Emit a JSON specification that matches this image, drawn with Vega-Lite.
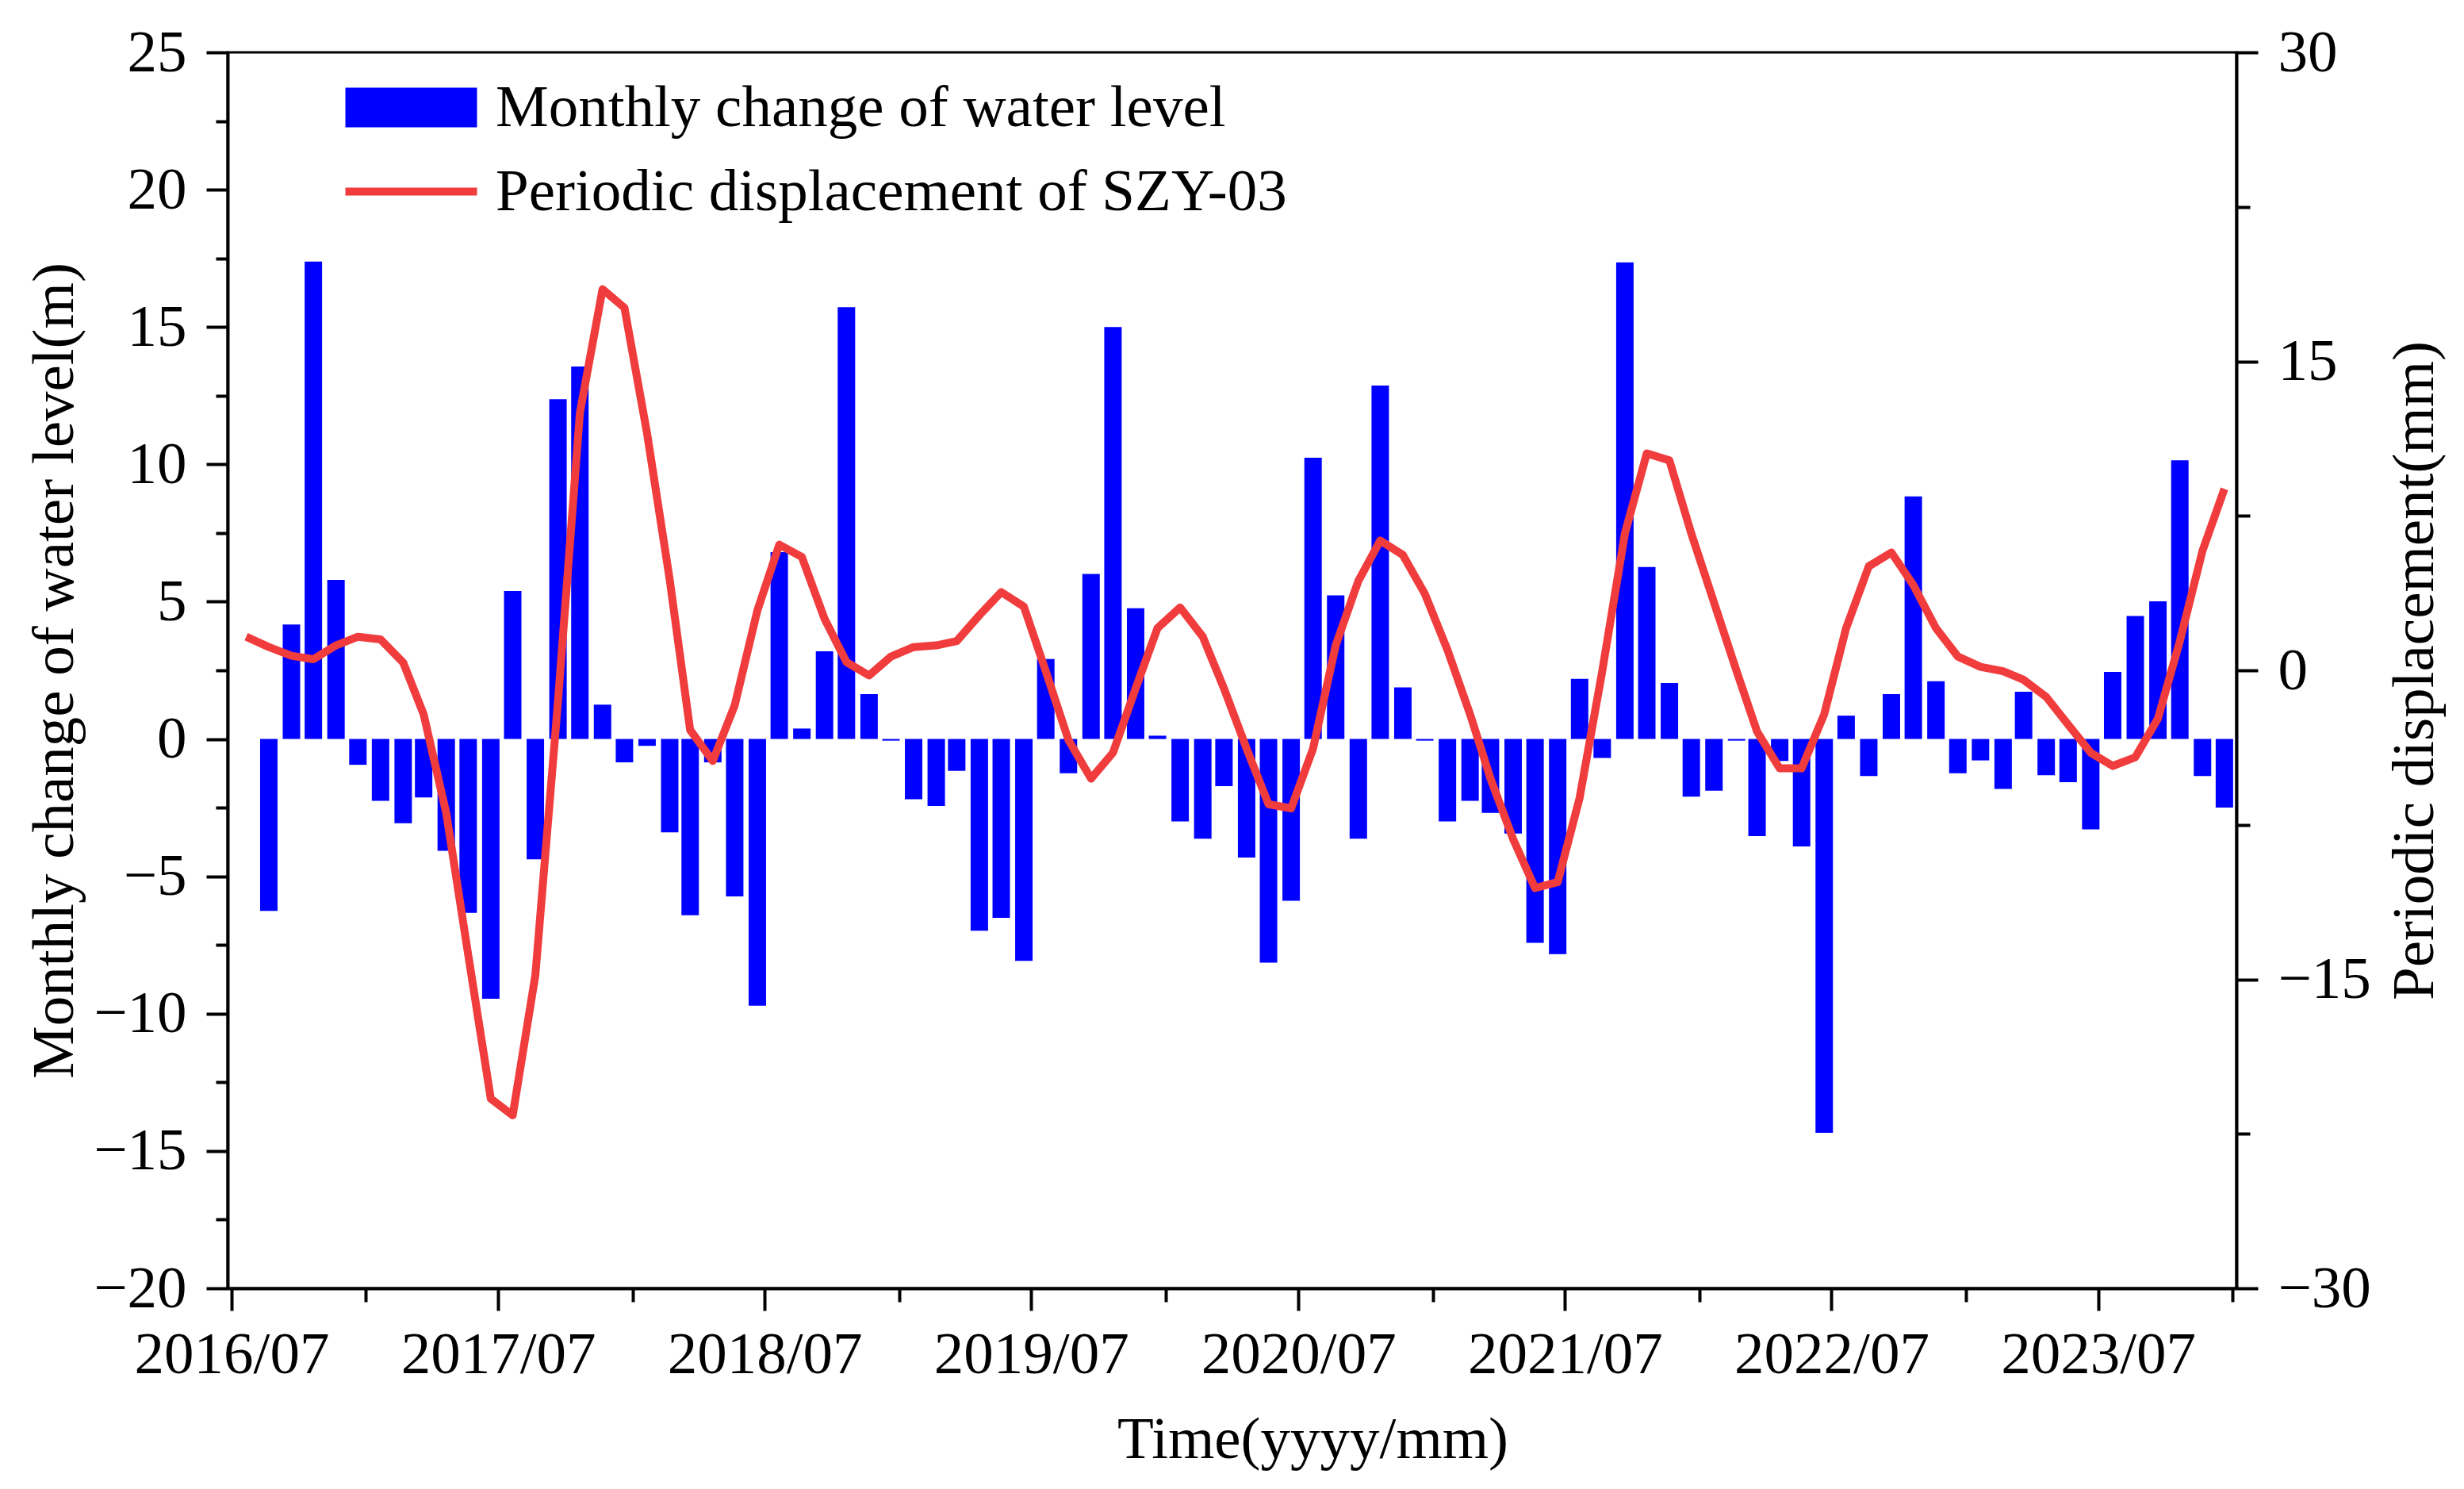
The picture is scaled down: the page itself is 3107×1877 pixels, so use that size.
{
  "$schema": "https://vega.github.io/schema/vega-lite/v6.json",
  "autosize": {"type": "none"},
  "width": 2533,
  "height": 1558,
  "padding": {"left": 287, "top": 66, "right": 287, "bottom": 253},
  "background": "white",
  "datasets": {
    "water": [
      {"date": "2016-08-21", "change": -6.26}, {"date": "2016-09-21", "change": 4.17}, {"date": "2016-10-21", "change": 17.38},
      {"date": "2016-11-21", "change": 5.79}, {"date": "2016-12-21", "change": -0.94},
      {"date": "2017-01-21", "change": -2.25}, {"date": "2017-02-21", "change": -3.07}, {"date": "2017-03-21", "change": -2.13},
      {"date": "2017-04-21", "change": -4.07}, {"date": "2017-05-21", "change": -6.33}, {"date": "2017-06-21", "change": -9.46},
      {"date": "2017-07-21", "change": 5.39}, {"date": "2017-08-21", "change": -4.38}, {"date": "2017-09-21", "change": 12.37},
      {"date": "2017-10-21", "change": 13.56}, {"date": "2017-11-21", "change": 1.25}, {"date": "2017-12-21", "change": -0.85},
      {"date": "2018-01-21", "change": -0.25}, {"date": "2018-02-21", "change": -3.4}, {"date": "2018-03-21", "change": -6.42},
      {"date": "2018-04-21", "change": -0.85}, {"date": "2018-05-21", "change": -5.73}, {"date": "2018-06-21", "change": -9.71},
      {"date": "2018-07-21", "change": 6.8}, {"date": "2018-08-21", "change": 0.38}, {"date": "2018-09-21", "change": 3.19},
      {"date": "2018-10-21", "change": 15.72}, {"date": "2018-11-21", "change": 1.63}, {"date": "2018-12-21", "change": -0.06},
      {"date": "2019-01-21", "change": -2.19}, {"date": "2019-02-21", "change": -2.44}, {"date": "2019-03-21", "change": -1.16},
      {"date": "2019-04-21", "change": -6.98}, {"date": "2019-05-21", "change": -6.51}, {"date": "2019-06-21", "change": -8.08},
      {"date": "2019-07-21", "change": 2.91}, {"date": "2019-08-21", "change": -1.25}, {"date": "2019-09-21", "change": 6.01},
      {"date": "2019-10-21", "change": 15.0}, {"date": "2019-11-21", "change": 4.76}, {"date": "2019-12-21", "change": 0.12},
      {"date": "2020-01-21", "change": -3.0}, {"date": "2020-02-21", "change": -3.63}, {"date": "2020-03-21", "change": -1.72},
      {"date": "2020-04-21", "change": -4.32}, {"date": "2020-05-21", "change": -8.14}, {"date": "2020-06-21", "change": -5.89},
      {"date": "2020-07-21", "change": 10.24}, {"date": "2020-08-21", "change": 5.23}, {"date": "2020-09-21", "change": -3.63},
      {"date": "2020-10-21", "change": 12.87}, {"date": "2020-11-21", "change": 1.88}, {"date": "2020-12-21", "change": -0.06},
      {"date": "2021-01-21", "change": -3.0}, {"date": "2021-02-21", "change": -2.25}, {"date": "2021-03-21", "change": -2.69},
      {"date": "2021-04-21", "change": -3.44}, {"date": "2021-05-21", "change": -7.42}, {"date": "2021-06-21", "change": -7.83},
      {"date": "2021-07-21", "change": 2.19}, {"date": "2021-08-21", "change": -0.69}, {"date": "2021-09-21", "change": 17.35},
      {"date": "2021-10-21", "change": 6.26}, {"date": "2021-11-21", "change": 2.04}, {"date": "2021-12-21", "change": -2.1},
      {"date": "2022-01-21", "change": -1.88}, {"date": "2022-02-21", "change": -0.06}, {"date": "2022-03-21", "change": -3.54},
      {"date": "2022-04-21", "change": -0.8}, {"date": "2022-05-21", "change": -3.91}, {"date": "2022-06-21", "change": -14.34},
      {"date": "2022-07-21", "change": 0.85}, {"date": "2022-08-21", "change": -1.35}, {"date": "2022-09-21", "change": 1.63},
      {"date": "2022-10-21", "change": 8.83}, {"date": "2022-11-21", "change": 2.1}, {"date": "2022-12-21", "change": -1.25},
      {"date": "2023-01-21", "change": -0.78}, {"date": "2023-02-21", "change": -1.82}, {"date": "2023-03-21", "change": 1.72},
      {"date": "2023-04-21", "change": -1.32}, {"date": "2023-05-21", "change": -1.57}, {"date": "2023-06-21", "change": -3.29},
      {"date": "2023-07-21", "change": 2.44}, {"date": "2023-08-21", "change": 4.48}, {"date": "2023-09-21", "change": 5.01},
      {"date": "2023-10-21", "change": 10.15}, {"date": "2023-11-21", "change": -1.35}, {"date": "2023-12-21", "change": -2.5}
    ],
    "displacement": [
      {"date": "2016-07-21", "disp": 1.63}, {"date": "2016-08-21", "disp": 1.13}, {"date": "2016-09-21", "disp": 0.71},
      {"date": "2016-10-21", "disp": 0.54}, {"date": "2016-11-21", "disp": 1.21}, {"date": "2016-12-21", "disp": 1.63},
      {"date": "2017-01-21", "disp": 1.5}, {"date": "2017-02-21", "disp": 0.38}, {"date": "2017-03-21", "disp": -2.13},
      {"date": "2017-04-21", "disp": -6.93}, {"date": "2017-05-21", "disp": -13.8}, {"date": "2017-06-21", "disp": -20.8},
      {"date": "2017-07-21", "disp": -21.6}, {"date": "2017-08-21", "disp": -14.8}, {"date": "2017-09-21", "disp": -1.5},
      {"date": "2017-10-21", "disp": 12.5}, {"date": "2017-11-21", "disp": 18.5}, {"date": "2017-12-21", "disp": 17.6},
      {"date": "2018-01-21", "disp": 11.5}, {"date": "2018-02-21", "disp": 4.4}, {"date": "2018-03-21", "disp": -2.9},
      {"date": "2018-04-21", "disp": -4.4}, {"date": "2018-05-21", "disp": -1.7}, {"date": "2018-06-21", "disp": 2.9},
      {"date": "2018-07-21", "disp": 6.1}, {"date": "2018-08-21", "disp": 5.5}, {"date": "2018-09-21", "disp": 2.5},
      {"date": "2018-10-21", "disp": 0.4}, {"date": "2018-11-21", "disp": -0.25}, {"date": "2018-12-21", "disp": 0.67},
      {"date": "2019-01-21", "disp": 1.13}, {"date": "2019-02-21", "disp": 1.21}, {"date": "2019-03-21", "disp": 1.42},
      {"date": "2019-04-21", "disp": 2.67}, {"date": "2019-05-21", "disp": 3.8}, {"date": "2019-06-21", "disp": 3.09},
      {"date": "2019-07-21", "disp": -0.04}, {"date": "2019-08-21", "disp": -3.38}, {"date": "2019-09-21", "disp": -5.26},
      {"date": "2019-10-21", "disp": -4.0}, {"date": "2019-11-21", "disp": -0.88}, {"date": "2019-12-21", "disp": 2.05},
      {"date": "2020-01-21", "disp": 3.05}, {"date": "2020-02-21", "disp": 1.63}, {"date": "2020-03-21", "disp": -0.88},
      {"date": "2020-04-21", "disp": -3.8}, {"date": "2020-05-21", "disp": -6.5}, {"date": "2020-06-21", "disp": -6.7},
      {"date": "2020-07-21", "disp": -3.8}, {"date": "2020-08-21", "disp": 1.21}, {"date": "2020-09-21", "disp": 4.34},
      {"date": "2020-10-21", "disp": 6.3}, {"date": "2020-11-21", "disp": 5.6}, {"date": "2020-12-21", "disp": 3.72},
      {"date": "2021-01-21", "disp": 1.0}, {"date": "2021-02-21", "disp": -2.13}, {"date": "2021-03-21", "disp": -5.26},
      {"date": "2021-04-21", "disp": -8.19}, {"date": "2021-05-21", "disp": -10.57}, {"date": "2021-06-21", "disp": -10.28},
      {"date": "2021-07-21", "disp": -6.2}, {"date": "2021-08-21", "disp": -0.04}, {"date": "2021-09-21", "disp": 6.64},
      {"date": "2021-10-21", "disp": 10.53}, {"date": "2021-11-21", "disp": 10.19}, {"date": "2021-12-21", "disp": 6.64},
      {"date": "2022-01-21", "disp": 3.3}, {"date": "2022-02-21", "disp": -0.04}, {"date": "2022-03-21", "disp": -2.97},
      {"date": "2022-04-21", "disp": -4.76}, {"date": "2022-05-21", "disp": -4.76}, {"date": "2022-06-21", "disp": -2.13},
      {"date": "2022-07-21", "disp": 2.05}, {"date": "2022-08-21", "disp": 5.05}, {"date": "2022-09-21", "disp": 5.72},
      {"date": "2022-10-21", "disp": 4.14}, {"date": "2022-11-21", "disp": 2.05}, {"date": "2022-12-21", "disp": 0.67},
      {"date": "2023-01-21", "disp": 0.17}, {"date": "2023-02-21", "disp": -0.04}, {"date": "2023-03-21", "disp": -0.46},
      {"date": "2023-04-21", "disp": -1.29}, {"date": "2023-05-21", "disp": -2.63}, {"date": "2023-06-21", "disp": -4.0},
      {"date": "2023-07-21", "disp": -4.64}, {"date": "2023-08-21", "disp": -4.22}, {"date": "2023-09-21", "disp": -2.34},
      {"date": "2023-10-21", "disp": 1.42}, {"date": "2023-11-21", "disp": 5.8}, {"date": "2023-12-21", "disp": 8.81}
    ]
  },
  "layer": [
    {
      "data": {"name": "water"},
      "mark": {"type": "bar", "width": 22},
      "encoding": {
        "x": {
          "field": "date",
          "type": "temporal",
          "scale": {
            "type": "utc",
            "domain": [
              {"year": 2016, "month": 7, "date": 1, "utc": true},
              {"year": 2024, "month": 1, "date": 1, "utc": true}
            ]
          },
          "axis": {
            "values": [
              {"year": 2016, "month": 7, "date": 1, "utc": true},
              {"year": 2017, "month": 1, "date": 1, "utc": true},
              {"year": 2017, "month": 7, "date": 1, "utc": true},
              {"year": 2018, "month": 1, "date": 1, "utc": true},
              {"year": 2018, "month": 7, "date": 1, "utc": true},
              {"year": 2019, "month": 1, "date": 1, "utc": true},
              {"year": 2019, "month": 7, "date": 1, "utc": true},
              {"year": 2020, "month": 1, "date": 1, "utc": true},
              {"year": 2020, "month": 7, "date": 1, "utc": true},
              {"year": 2021, "month": 1, "date": 1, "utc": true},
              {"year": 2021, "month": 7, "date": 1, "utc": true},
              {"year": 2022, "month": 1, "date": 1, "utc": true},
              {"year": 2022, "month": 7, "date": 1, "utc": true},
              {"year": 2023, "month": 1, "date": 1, "utc": true},
              {"year": 2023, "month": 7, "date": 1, "utc": true},
              {"year": 2024, "month": 1, "date": 1, "utc": true}
            ],
            "labelExpr": "utcmonth(datum.value) === 6 ? utcFormat(datum.value, '%Y/%m') : ''",
            "labelLimit": 0,
            "tickSize": {"condition": {"test": "utcmonth(datum.value) === 6", "value": 28}, "value": 17},
            "labelPadding": 19,
            "title": "Time(yyyy/mm)",
            "titleX": 1368,
            "titleY": 213,
            "titleBaseline": "alphabetic",
            "titleAlign": "center"
          }
        },
        "y": {
          "field": "change",
          "type": "quantitative",
          "scale": {"domain": [-20, 25], "nice": false},
          "axis": {
            "orient": "left",
            "values": [-20, -17.5, -15, -12.5, -10, -7.5, -5, -2.5, 0, 2.5, 5, 7.5, 10, 12.5, 15, 17.5, 20, 22.5, 25],
            "labelExpr": "datum.value % 5 === 0 ? datum.label : ''",
            "tickSize": {"condition": {"test": "datum.value % 5 === 0", "value": 27}, "value": 15},
            "labelPadding": 25,
            "title": "Monthly change of water level(m)",
            "titleAngle": -90,
            "titleX": -196,
            "titleY": 779,
            "titleBaseline": "alphabetic",
            "titleAlign": "center"
          }
        },
        "color": {
          "datum": "Monthly change of water level",
          "type": "nominal",
          "scale": {
            "domain": ["Monthly change of water level", "Periodic displacement of SZY-03"],
            "range": ["#0000ff", "#f03c3c"]
          },
          "legend": {
            "orient": "none",
            "legendX": 190,
            "legendY": 28,
            "title": null,
            "padding": 0,
            "labelFont": "Liberation Serif",
            "labelFontSize": 75,
            "labelColor": "black",
            "labelLimit": 3000,
            "labelOffset": 65,
            "rowPadding": 26,
            "symbolSize": 6889,
            "symbolStrokeWidth": 0,
            "encode": {
              "symbols": {
                "update": {
                  "shape": {"signal": "datum.value === 'Monthly change of water level' ? 'M-2,-0.6H2V0.6H-2Z' : 'M-2,-0.12H2V0.12H-2Z'"},
                  "fill": {"signal": "scale('color', datum.value)"},
                  "strokeWidth": {"value": 0},
                  "opacity": {"value": 1}
                }
              }
            }
          }
        }
      }
    },
    {
      "data": {"name": "displacement"},
      "mark": {"type": "line", "strokeWidth": 10, "strokeJoin": "round"},
      "encoding": {
        "x": {"field": "date", "type": "temporal"},
        "y": {
          "field": "disp",
          "type": "quantitative",
          "scale": {"domain": [-30, 30], "nice": false},
          "axis": {
            "orient": "right",
            "values": [-30, -22.5, -15, -7.5, 0, 7.5, 15, 22.5, 30],
            "labelExpr": "datum.value % 15 === 0 ? datum.label : ''",
            "tickSize": {"condition": {"test": "datum.value % 15 === 0", "value": 27}, "value": 17},
            "labelPadding": 25,
            "title": "Periodic displacement(mm)",
            "titleAngle": -90,
            "titleX": 247,
            "titleY": 779,
            "titleBaseline": "alphabetic",
            "titleAlign": "center"
          }
        },
        "color": {"datum": "Periodic displacement of SZY-03", "type": "nominal"}
      }
    }
  ],
  "resolve": {"scale": {"y": "independent"}},
  "config": {
    "font": "Liberation Serif",
    "view": {"stroke": "black", "strokeWidth": 3},
    "axis": {
      "labelFont": "Liberation Serif",
      "titleFont": "Liberation Serif",
      "labelFontSize": 75,
      "titleFontSize": 75,
      "labelColor": "black",
      "titleColor": "black",
      "titleFontWeight": "normal",
      "domainColor": "black",
      "domainWidth": 4,
      "tickColor": "black",
      "tickWidth": 4,
      "grid": false,
      "labelFlush": false,
      "labelOverlap": false
    }
  }
}
